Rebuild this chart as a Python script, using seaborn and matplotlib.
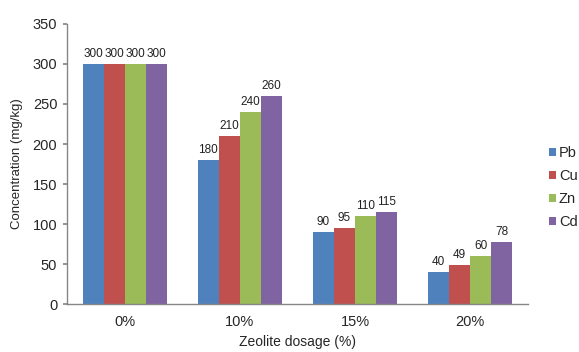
import matplotlib
matplotlib.use("Agg")
import matplotlib.pyplot as plt
import seaborn as sns
import pandas as pd

dosages = ["0%", "10%", "15%", "20%"]
metals = ["Pb", "Cu", "Zn", "Cd"]
pb = [300, 180, 90, 40]
cu = [300, 210, 95, 49]
zn = [300, 240, 110, 60]
cd = [300, 260, 115, 78]
colors = ["#4F81BD", "#C0504D", "#9BBB59", "#8064A2"]
y_ticks = [0, 50, 100, 150, 200, 250, 300, 350]

rows = []
for metal, vals in zip(metals, [pb, cu, zn, cd]):
    for d, v in zip(dosages, vals):
        rows.append({"Dosage": d, "Metal": metal, "Concentration": v})
df = pd.DataFrame(rows)

sns.set_theme(style="white")
plt.rcParams["font.family"] = ["Liberation Sans", "DejaVu Sans"]

fig = plt.figure(figsize=(5.79, 3.52), dpi=100)
ax = fig.add_axes([0.1157, 0.136, 0.796, 0.796])

sns.barplot(data=df, x="Dosage", y="Concentration", hue="Metal",
            order=dosages, hue_order=metals, palette=colors,
            width=0.73, gap=0, saturation=1, ax=ax, errorbar=None,
            edgecolor="none")

for cont in ax.containers:
    ax.bar_label(cont, fmt="%g", padding=3, fontsize=8.5, color="#222222")

ax.set_xlim(-0.5, 3.5)
ax.set_ylim(0, 350)
ax.set_yticks(y_ticks)
ax.tick_params(axis="y", labelsize=10.5, length=3, color="#868686",
               direction="out", left=True, pad=4)
ax.tick_params(axis="x", labelsize=10.5, length=0, pad=8)
for s in ["top", "right"]:
    ax.spines[s].set_visible(False)
for s in ["left", "bottom"]:
    ax.spines[s].set_color("#868686")
    ax.spines[s].set_linewidth(1.0)

ax.set_xlabel("Zeolite dosage (%)", fontsize=10, labelpad=4)
ax.set_ylabel("Concentration (mg/kg)", fontsize=9.5, labelpad=7)

leg = ax.legend(loc="center left", bbox_to_anchor=(1.045, 0.415), frameon=False,
                fontsize=10.5, handlelength=0.5, handleheight=0.5,
                handletextpad=0.2, labelspacing=0.62,
                borderpad=0, borderaxespad=0)

fig.savefig("out.png", dpi=100)
